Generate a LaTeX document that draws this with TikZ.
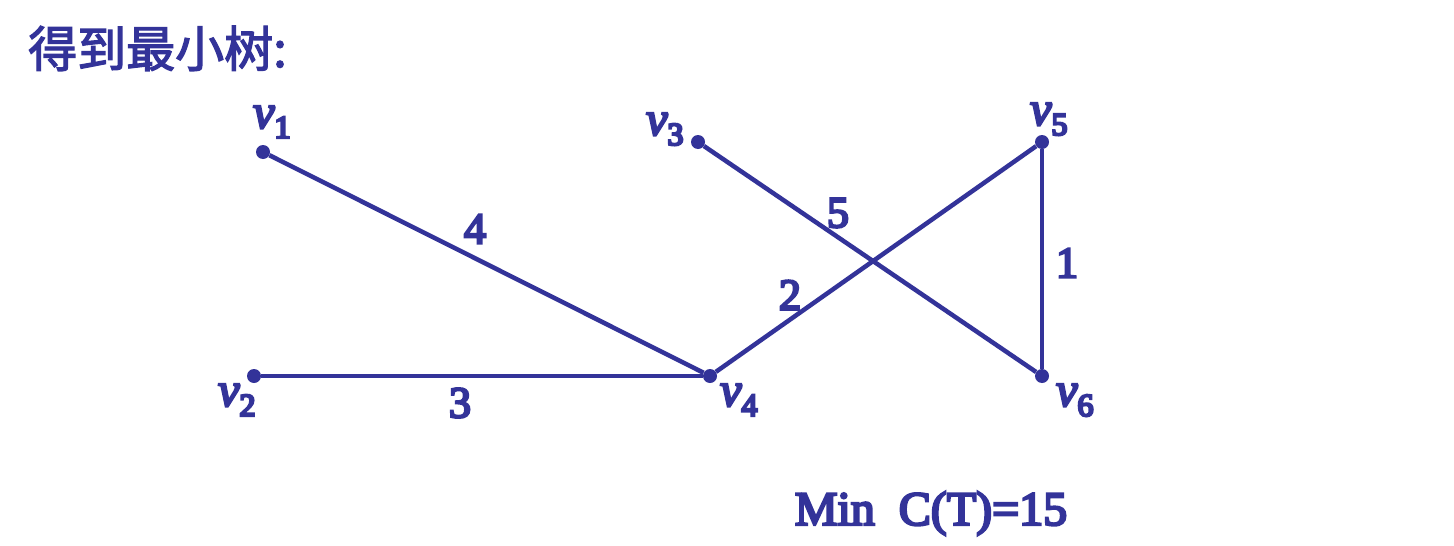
\documentclass[tikz,border=0pt]{standalone}
\usepackage{fontspec}
\setmainfont{Liberation Serif}
\newfontfamily\cjk{Noto Sans CJK SC}[FakeBold=2.5]
\definecolor{ink}{HTML}{333399}
\newcommand\heavy[1]{\special{pdf:literal direct 2 Tr 2.4 w}#1\special{pdf:literal direct 0 Tr}}
\newcommand\vname[1]{\heavy{{\fontsize{48}{48}\selectfont\itshape v}\raisebox{-10pt}{\fontsize{32}{32}\selectfont #1}}}
\begin{document}
\begin{tikzpicture}[x=1pt,y=-1pt,
  dot/.style={circle,fill=ink,inner sep=0pt,minimum size=14pt},
  edge/.style={draw=ink,line width=4.5pt},
  vlab/.style={anchor=base west,inner sep=0pt,text=ink},
  wlab/.style={text=ink,font=\fontsize{44}{44}\selectfont,inner sep=0pt}]
\useasboundingbox (0,0) rectangle (1454,546);
\fill[white] (0,0) rectangle (1454,546);
\node[anchor=base west,inner sep=0pt,text=ink,font=\fontsize{49}{49}\selectfont\cjk] (title) at (28,67) {得到最小树:};
\node[dot] (v1) at (263,152) {};
\node[dot] (v2) at (254,376) {};
\node[dot] (v3) at (698,142) {};
\node[dot] (v4) at (710,376) {};
\node[dot] (v5) at (1042,142) {};
\node[dot] (v6) at (1042,376) {};
\draw[edge] (v1) -- (v4);
\draw[edge] (v2) -- (v4);
\draw[edge] (v3) -- (v6);
\draw[edge] (v4) -- (v5);
\draw[edge] (v5) -- (v6);
\node[vlab] (l1) at (253,128) {\vname{1}};
\node[vlab] (l2) at (218,406) {\vname{2}};
\node[vlab] (l3) at (646,135) {\vname{3}};
\node[vlab] (l4) at (720,406) {\vname{4}};
\node[vlab] (l5) at (1030,125) {\vname{5}};
\node[vlab] (l6) at (1056,406) {\vname{6}};
\node[wlab] (w4) at (475,229) {\heavy{4}};
\node[wlab] (w3) at (460,403) {\heavy{3}};
\node[wlab] (w5) at (838,213) {\heavy{5}};
\node[wlab] (w2) at (790,295) {\heavy{2}};
\node[wlab] (w1) at (1067,263) {\heavy{1}};
\node[anchor=base,inner sep=0pt,text=ink,font=\fontsize{48}{48}\selectfont] (cost) at (931,525) {\heavy{Min~~C(T)=15}};
\end{tikzpicture}
\end{document}
